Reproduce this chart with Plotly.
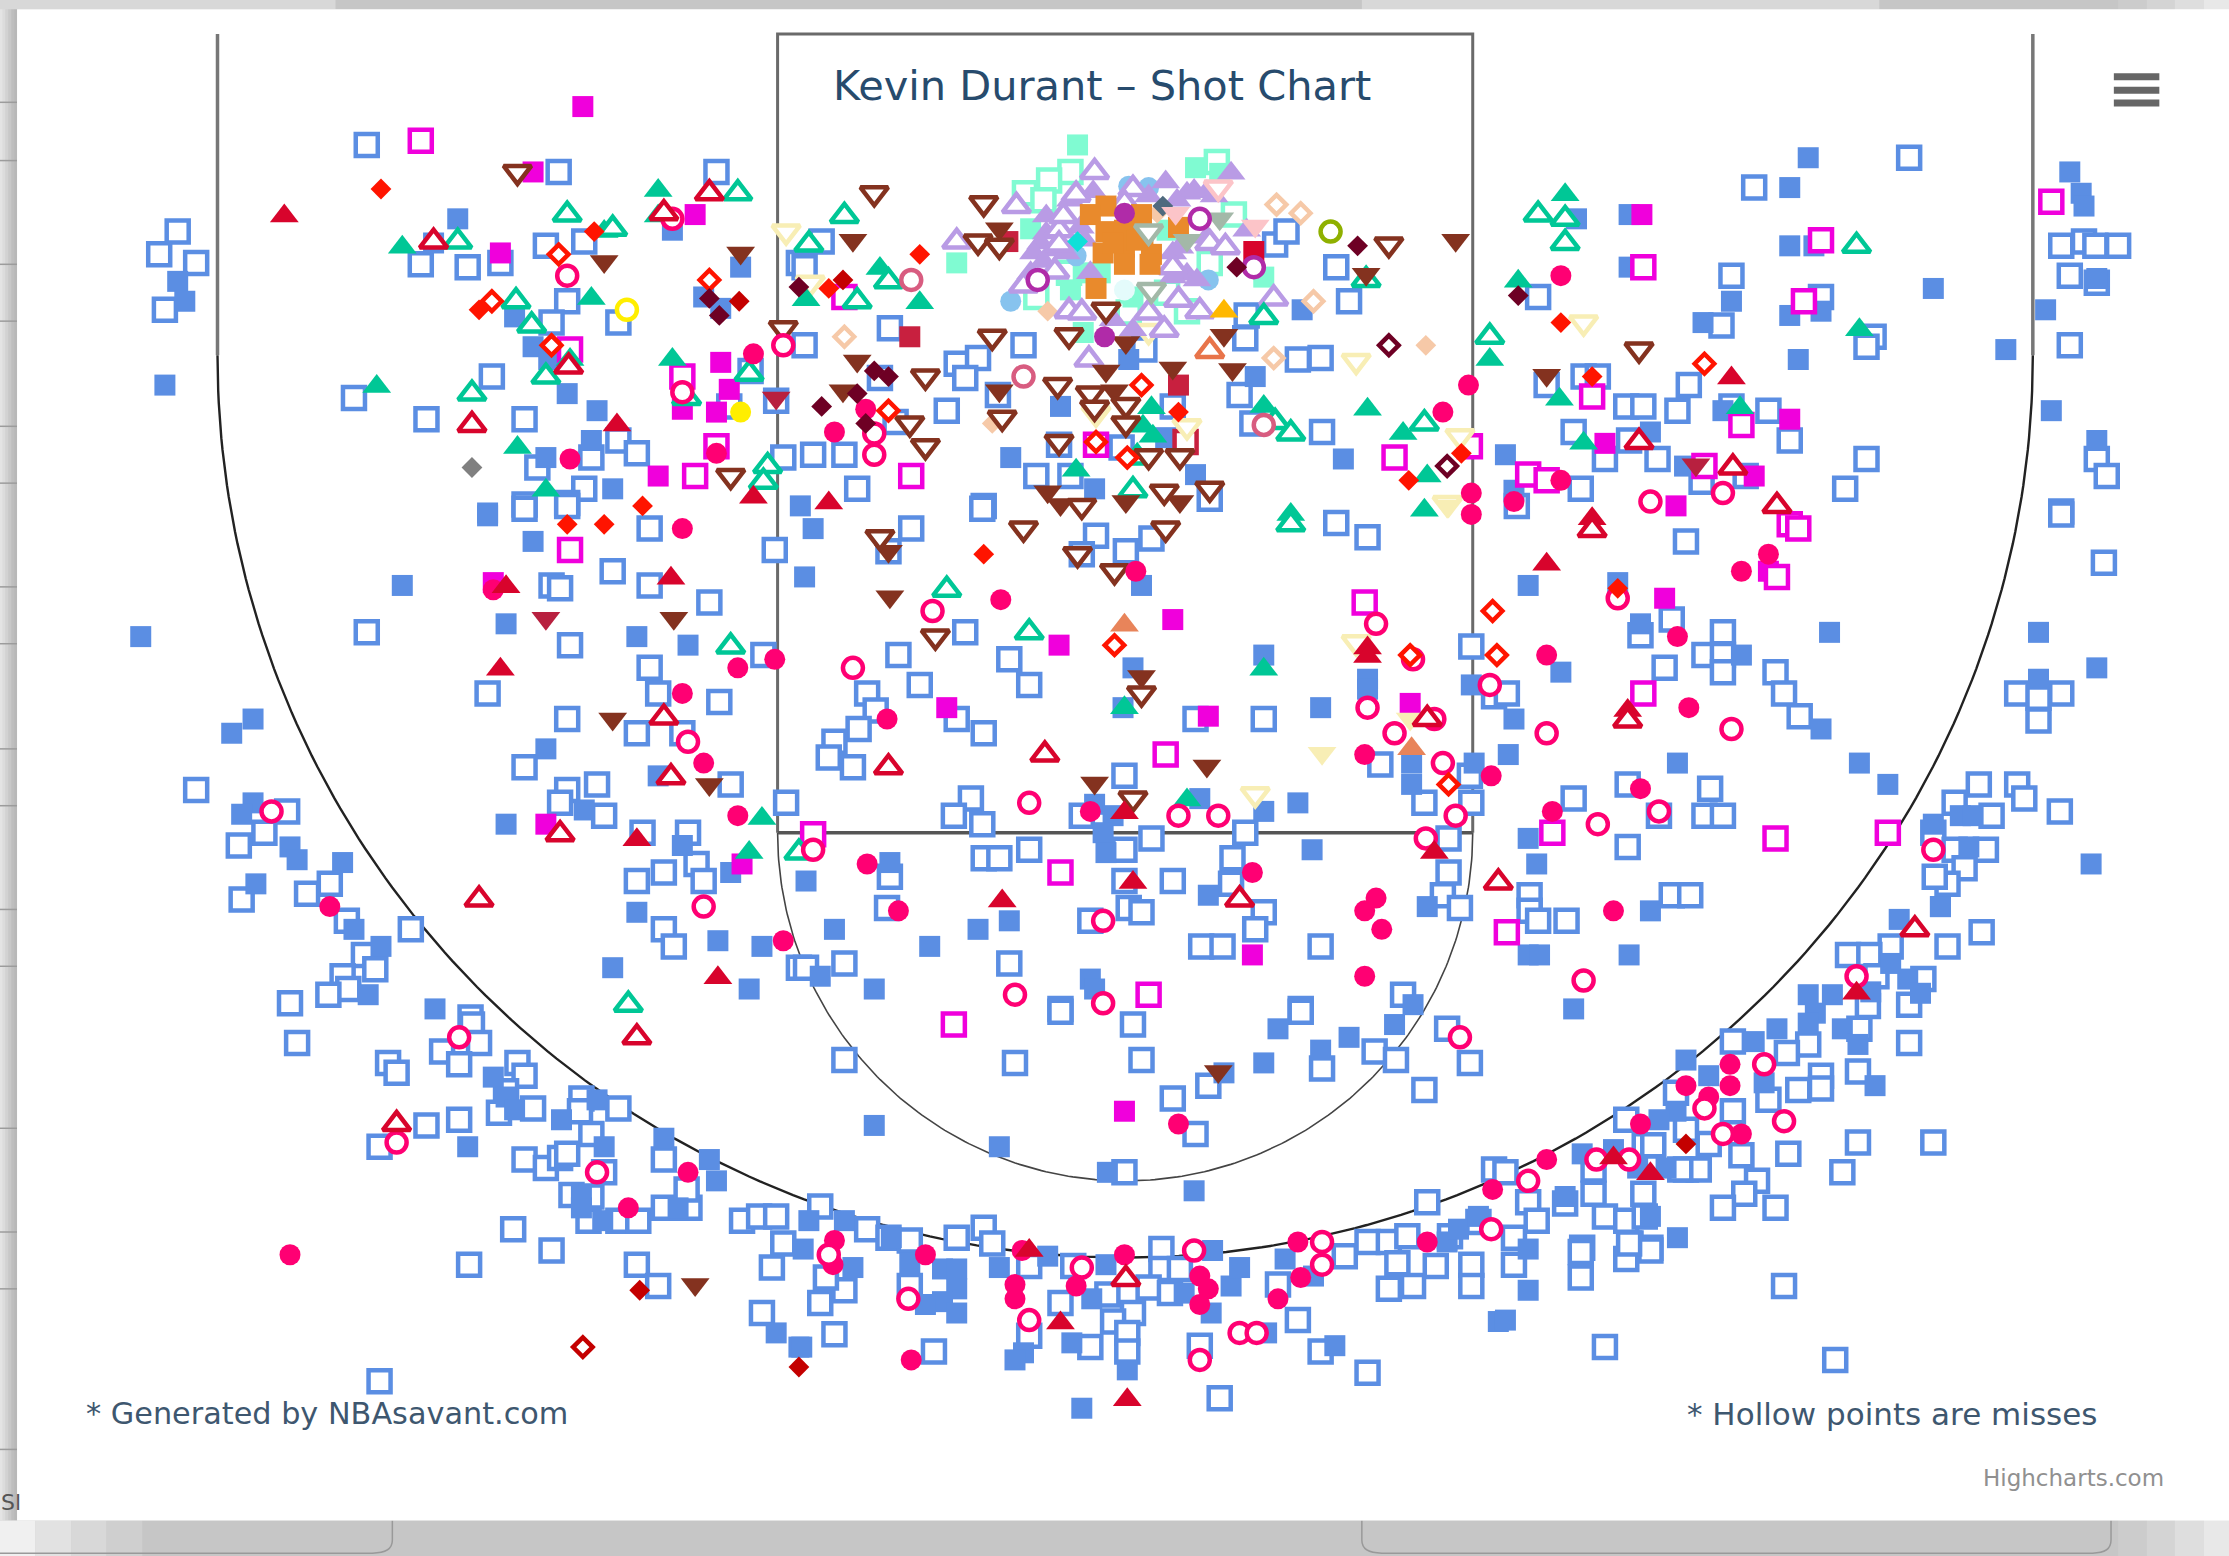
import numpy as np
import plotly.graph_objects as go

# Shot locations (horizontal, vertical court position)
jump_miss = [(125,163),(112,179),(138,185),(116,218),(258,102),(393,121),(504,121),(296,186),(329,188),(352,185),(384,173),(411,170),(399,212),(388,227),(435,227),(346,265),(249,280),(300,295),(369,295),(416,322),(435,310),(448,319),(378,329),(411,344),(369,355),(399,354),(551,322),(528,261),(513,286),(546,282),(562,185),
(578,170),(566,188),(626,231),(566,243),(720,243),(673,256),(688,252),(679,266),(619,266),(666,289),(572,320),(594,320),(603,344),(692,356),(702,278),(729,335),(753,335),(805,246),(872,278),(877,222),(876,238),(913,253),(929,252),(881,298),(930,304),(940,188),(949,212),(897,172),(905,163),(789,315),(630,297),(825,286),(851,351),(745,313),
(1343,111),(1234,132),(1218,194),(1082,209),(1211,229),(1281,209),(1318,237),(1313,244),(1450,173),(1466,170),(1490,173),(1474,173),(1456,194),(1475,199),(1456,243),(1088,271),(1114,265),(1124,265),(1188,271),(1144,286),(1156,286),(1180,289),(1218,286),(1244,289),(1107,304),(1146,310),(1129,323),(1166,323),(1197,339),(1228,335),(1259,310),(1313,323),(1298,344),(1112,344),(1475,323),(1482,335),(1450,360),(1067,356),
(369,358),(399,356),(457,372),(431,402),(388,412),(394,414),(457,412),(499,424),(258,445),(401,454),(545,387),(537,461),(457,470),(463,488),(506,494),(343,488),(399,506),(448,516),(480,516),(369,540),(399,556),(394,565),(420,552),(425,574),(514,552),(553,565),(138,556),(202,571),(186,586),(168,595),(452,586),(484,586),(490,608),(467,614),(448,620),(495,620),(232,622),(170,633),(216,629),(244,648),(289,654),(256,672),(264,682),(241,687),(245,696),(231,700),(204,706),(467,654),(474,666),(562,681),(331,716),
(641,372),(625,388),(691,358),(771,377),(810,379),(792,388),(761,390),(940,368),(962,378),(632,461),(679,445),(710,464),(647,482),(724,482),(610,488),(616,500),(604,513),(673,506),(692,516),(841,506),(889,506),(587,522),(583,533),(600,540),(791,546),(683,562),(671,574),(691,580),(761,574),(810,590),(876,586),(791,598),(724,598),(692,604),(703,604),(626,617),(791,620),(825,620),(867,604),(866,622),(794,639),(803,642),(767,648),(624,639),(889,642),(883,654),(845,666),(860,666),(929,666),(710,678),(594,678),(567,681),(746,710),(987,700),(915,710),(971,538),(1002,565),(1035,565),(1034,546),(1035,455),(1019,590),(1019,614),(1015,630),(1027,639),(1051,490),
(1450,362),(1480,396),(1186,381),(1176,436),(1154,447),(1212,445),(1199,461),(1212,461),(1212,473),(1171,470),(1249,473),(1255,488),(1266,504),(1060,488),(1419,488),(1450,488),(1434,491),(1434,507),(1107,562),(1145,552),(1203,555),(1199,574),(1212,574),(1167,574),(1145,596),(1392,552),(1419,552),(1424,562),(1375,565),(1401,574),(1449,571),(1360,586),(1375,598),(1397,598),(1382,611),(1370,622),(1361,617),(1076,630),(1176,630),(1189,630),(1076,641),(1082,648),(1102,648),
(209,734),(332,721),(337,734),(311,740),(323,749),(273,748),(279,755),(364,748),(369,757),(356,768),(351,783),(375,780),(409,773),(408,782),(435,780),(416,798),(300,792),(323,788),(267,807),(369,816),(384,822),(394,815),(399,812),(467,816),(425,825),(402,841),(416,842),(414,859),(435,859),(449,859),(467,850),(485,850),(483,837),(361,865),(388,880),(330,890),(448,890),(463,905),(522,859),(534,856),(546,856),(551,875),(543,892),(536,924),(267,972),
(594,746),(714,748),(746,712),(797,721),(803,746),(825,773),(850,764),(841,798),(930,752),(915,712),(967,740),(982,746),(1018,724),(1034,748),(1002,767),(791,825),(1004,846),(577,849),(610,865),(625,871),(640,873),(673,871),(692,864),(698,875),(724,891),(755,891),(817,879),(817,893),(830,893),(808,906),(823,910),(797,924),(783,930),(793,938),(793,951),(779,911),(746,917),(724,940),(767,948),(657,951),(587,939),(577,917),(594,908),(640,905),(581,899),(899,904),(913,929),(844,947),(929,951),(962,966),(858,984),(946,884),(962,874),(977,874),(990,870),(977,907),(994,905),(983,889),(1010,891),(1035,890),(1035,905),(1051,823),
(1343,734),(1370,666),(1394,656),(1330,666),(1300,672),(1315,672),(1320,687),(1314,708),(1343,707),(1308,724),(1272,735),(1257,741),(1219,733),(1353,689),(1281,757),(1281,766),(1265,767),(1307,754),(1244,774),(1219,782),(1179,769),(1186,795),(1157,806),(1144,788),(1163,806),(1202,805),(1225,813),(1258,812),(1236,831),(1227,840),(1212,850),(1249,850),(1307,804),(1360,804),(1296,825),(1186,823),(1195,823),(1182,823),(1121,823),(1121,840),(1156,840),(1129,856),(1144,859),(1157,856),(1113,878),(1147,875),(1161,878),(1075,846),(1081,859),(1065,871),(1101,847),(1059,825),
(1129,948),(1291,957),(1255,905),(1112,899),(1112,881),(1144,886),(1161,880),(1146,875),(1065,890),(1040,860),(1020,870)]
jump_make = [(322,154),(125,198),(130,212),(116,271),(362,223),(375,244),(386,253),(399,277),(420,289),(416,310),(384,322),(431,344),(343,361),(521,188),(495,209),(507,217),(473,162),(305,171),
(711,322),(746,286),(794,253),(883,265),(916,218),(945,323),(770,344),(841,334),(820,308),(563,356),
(1272,111),(1259,132),(1109,154),(1146,151),(1259,173),(1276,173),(1146,188),(1360,203),(1218,212),(1198,227),(1259,222),(1281,219),(1265,253),(1411,246),(1439,218),(1456,121),(1464,136),(1466,145),(1475,196),(1443,289),(1475,310),(1212,289),(1161,304),(1185,328),(1059,320),(1065,345),
(343,363),(375,381),(283,412),(99,448),(356,439),(448,448),(484,454),(178,506),(163,516),(178,565),(170,573),(384,527),(463,546),(356,580),(411,570),(204,596),(209,605),(241,607),(180,622),(249,654),(268,666),(259,700),(448,642),(505,662),(536,666),(431,681),(527,696),(480,595),(514,614),(306,710),
(572,372),(566,406),(803,412),(797,470),(889,461),(929,498),(962,478),(1035,482),(844,562),(889,571),(913,565),(770,566),(783,574),(776,586),(778,600),(626,607),(923,598),(567,620),(850,630),(587,654),(688,654),(710,648),(654,666),(577,687),(615,696),(767,689),(770,696),(1004,638),(993,537),(993,552),(1037,537),(790,498),(962,485),
(1075,412),(1138,410),(1154,439),(1225,461),(1287,445),(1434,445),(1475,470),(1434,478),(1098,473),(1065,506),(1281,513),(1061,531),(1180,537),(1308,537),(1328,552),(1360,580),(1379,574),(1388,574),(1385,596),(1075,590),(1081,608),(1161,641),(1471,608),(1075,672),(1083,672),(1146,672),(1107,710),(1365,638),
(347,758),(356,772),(362,781),(395,788),(420,774),(425,807),(467,801),(329,807),(499,816),(504,831),(409,842),(409,850),(424,859),(477,850),(546,938),(562,948),
(615,792),(703,807),(779,825),(840,838),(899,724),(949,730),(889,748),(929,739),(861,755),(981,721),(994,707),(569,859),(594,859),(600,892),(627,871),(640,889),(663,893),(673,893),(673,907),(663,916),(651,918),(673,924),(703,892),(737,884),(778,890),(768,914),(754,945),(720,952),(714,957),(793,964),(761,991),(833,910),(852,924),(866,905),(872,892),(853,880),(939,947),(891,938),(904,886),(924,898),(1018,874),(1026,865),(1040,856),(1054,930),(564,948),(565,879),
(1336,647),(1365,638),(1330,678),(1342,689),(1351,699),(1272,700),(1289,700),(1316,698),(1277,713),(1272,720),(1296,724),(1250,724),(1234,733),(1307,735),(1186,746),(1202,757),(1179,782),(1167,788),(1319,764),(1241,762),(1180,871),(1101,842),(1135,809),(1113,812),(1172,822),(1075,879),(1152,822),(1161,856),(1075,908),(1059,929)]
layup_make = [(410,75),(375,121),(489,151),(352,178),(507,255),(463,335),(513,274),(504,290),(480,288),(1155,151),(1259,295),(1179,356),(1234,335),(1129,312),(347,410),(384,580),(522,608),(825,436),(745,454),(666,498),(850,504),(992,495),(881,672),(1171,421),(1244,402),(791,782)]
layup_miss = [(296,99),(401,246),(480,265),(504,314),(489,335),(594,209),(641,335),(771,313),(981,322),(1034,314),(1281,169),(1156,188),(1269,212),(1443,142),(1120,279),(1225,299),(1075,334),(1088,338),(1199,328),(401,387),(960,424),(820,531),(746,614),(808,700),(671,721),(572,587),(1259,369),(1265,372),(1250,406),(1156,488),(1092,586),(1249,590),(1328,586),(1060,656)]
pull_make = [(401,323),(504,319),(530,249),(609,288),(587,304),(1033,271),(1015,290),(1035,347),(1098,194),(1098,338),(1065,353),(480,372),(347,415),(519,470),(545,464),(480,488),(495,537),(519,574),(232,638),(551,662),(704,422),(799,402),(624,506),(610,608),(632,641),(767,571),(881,614),(968,632),(960,641),(972,654),(960,687),(960,531),(1049,546),(1035,362),(1244,390),(1225,402),(1180,448),(1088,461),(1188,498),(1154,555),(1092,571),(1135,641),(484,825),(442,850),(204,883),(587,873),(586,890),(651,883),(719,880),(714,904),(714,914),(757,905),(791,883),(844,898),(850,907),(844,918),(899,914),(915,899),(913,874),(1004,874),(1050,837),(641,957),(829,791),(1217,749),(1217,764),(1186,764),(1202,772),(1225,798),(1154,791),(1088,816)]
pull_miss = [(399,194),(473,154),(551,243),(480,276),(615,305),(615,320),(1161,353),(1212,347),(191,571),(484,522),(495,638),(656,430),(600,470),(724,565),(829,574),(857,574),(968,439),(994,464),(962,498),(981,516),(1009,506),(1015,537),(1024,574),(1003,590),(1048,482),(776,648),(714,700),(776,706),(572,598),(1138,421),(1088,516),(1218,513),(1124,580),(1167,571),(1360,598),(1114,690),(1306,687),(323,730),(279,804),(420,825),(583,883),(639,914),(724,929),(761,892),(840,880),(930,874),(930,890),(872,938),(884,938),(844,957),(1049,865),(1027,730),(1241,749),(1199,780),(1212,798),(1255,789),(1123,816),(1146,816),(1075,831)]
pull_miss_soft = [(641,197),(720,265),(889,299)]
fade_make = [(200,152),(434,299),(530,350),(583,354),(1218,266),(1120,365),(356,413),(472,407),(352,471),(448,591),(505,688),(791,572),(962,456),(962,462),(1009,600),(797,621),(705,634),(1088,397),(1145,500),(1306,699),(724,880),(746,931),(793,985),(1135,815),(1161,826)]
fade_miss = [(305,170),(499,136),(332,299),(400,258),(467,150),(1153,311),(1219,329),(1250,356),(467,505),(472,547),(394,587),(337,633),(735,531),(625,540),(1004,506),(872,633),(1054,621),(1120,373),(1145,507),(1347,654),(448,730),(279,791),(792,900)]
float_make = [(463,134),(283,174),(416,210),(425,163),(265,272),(364,315),(401,253),(384,345),(463,152),(473,253),(619,189),(647,213),(567,211),(1048,253),(889,286),(962,288),(987,305),(810,287),(804,300),(811,307),(757,331),(1004,335),(908,362),(1002,359),(1101,137),(1068,198),(1097,281),(1224,287),(1308,232),(1114,312),(536,576),(527,600),(889,471),(791,498),(835,563)]
float_miss = [(519,136),(399,151),(322,170),(431,161),(363,212),(374,229),(384,265),(332,277),(483,280),(527,263),(540,328),(537,339),(594,152),(569,172),(625,198),(603,212),(889,223),(961,197),(1048,237),(897,297),(908,305),(1002,298),(797,345),(800,322),(1082,151),(1101,154),(1101,171),(1306,173),(514,455),(442,707),(562,600),(666,415),(908,369),(724,445)]
hook_miss = [(364,121),(551,231),(514,335),(615,136),(692,143),(688,170),(703,173),(977,172),(778,218),(698,237),(752,236),(651,265),(744,271),(767,277),(770,287),(792,285),(792,298),(640,298),(651,314),(705,294),(745,311),(808,321),(830,321),(819,346),(851,344),(761,356),(1153,246),(619,378),(720,372),(758,390),(784,402),(820,372),(658,448),(803,488),(797,562)]
hook_make = [(425,184),(521,178),(600,169),(703,161),(1024,169),(961,193),(861,236),(792,241),(603,254),(593,275),(703,275),(867,260),(778,261),(784,275),(825,259),(737,346),(746,355),(830,353),(792,353),(1088,264),(626,420),(625,388),(474,435),(431,506),(499,552),(803,476),(770,551),(849,539),(857,754),(489,904)]
hook_dark = [(546,280),(384,435),(1193,327)]
dunk_make = [(268,133),(418,163),(337,218),(452,356),(399,369),(425,369),(647,179),(583,203),(829,290),(1028,319),(991,338),(1098,227),(1120,265),(692,390),(1138,414)]
dunk_miss = [(393,179),(346,212),(388,243),(499,197),(625,289),(803,271),(771,311),(793,322),(1199,256),(784,454),(992,461),(1019,552),(1050,430),(1053,461)]
bank_make = [(520,212),(593,197),(450,908),(562,962),(1186,805)]
bank_miss = [(410,948)]
tip_make = [(499,210),(506,222),(562,202),(955,173),(615,261),(625,265),(603,277),(578,286),(609,298),(870,188),(1068,208)]
tip_miss = [(977,243),(1018,328)]
cream_miss = [(553,163),(954,254),(1027,307),(1018,354),(771,291),(835,300),(570,199),(1114,227),(954,452),(883,559),(808,233)]
cream_make = [(930,530),(992,506),(1019,356)]
peach_miss = [(898,144),(915,150),(924,212),(594,237),(896,252)]
peach_make = [(1003,243),(737,219),(698,298),(814,150)]
aqua_make = [(758,102),(841,118),(673,185),(725,161),(753,204),(762,192),(889,195),(774,192),(858,122),(797,209),(821,162),(762,234)]
aqua_miss = [(753,121),(738,127),(721,136),(868,151),(794,220),(835,219),(851,185),(729,209),(734,141),(752,192),(821,206),(856,114)]
rim_purple_make = [(866,122),(820,128),(835,136),(828,141),(849,135),(840,134),(769,135),(753,141),(736,152),(732,171),(746,162),(736,164),(727,178),(741,176),(750,178),(760,160),(763,169),(825,178),(830,174),(835,193),(842,197),(825,195),(877,162),(808,138),(783,225),(797,232),(767,192),(734,184),(725,192),(854,138),(849,167)]
rim_purple_miss = [(770,121),(715,145),(673,170),(797,133),(745,162),(851,171),(862,174),(825,188),(720,201),(742,191),(829,211),(844,219),(808,220),(752,219),(761,220),(819,232),(766,253),(896,210),(757,137),(748,152),(791,143),(745,172)]
rim_orange = [(778,145),(767,151),(803,151),(829,160),(778,163),(791,162),(804,167),(776,178),(791,174),(810,179),(791,186),(809,186),(771,203),(800,169),(783,171)]
sky_circle = [(711,212),(850,197),(757,180),(794,131),(808,132)]
pale_circle = [(791,204)]
violet_miss = [(730,197),(844,154),(882,188)]
violet_make = [(777,237),(791,150)]
olive_miss = [(936,163)]
sage_miss = [(808,163),(810,204)]
sage_make = [(858,154),(835,169)]
pink_miss = [(857,132)]
pink_make = [(883,159),(827,150)]
yellow_miss = [(441,218)]
yellow_make = [(521,290)]
grey_diamond = [(332,329)]
slate_diamond = [(818,145)]
teal_diamond = [(758,170)]
coral_miss = [(851,247)]
coral_make = [(791,440),(993,527)]
amber_make = [(861,219)]
ruby_make = [(640,237),(829,271),(709,170)]
ruby_miss = [(834,311)]
scarlet_square = [(882,177)]

BLUE, MAG, CRIM, RED, GREEN, BROWN = "#5b8ee3", "#f000dc", "#ff0073", "#d8042c", "#00c796", "#84321f"
SERIES = [
    (jump_miss, "square", BLUE, True), (jump_make, "square", BLUE, False),
    (aqua_miss, "square", "#80fbd2", True), (aqua_make, "square", "#80fbd2", False),
    (layup_make, "square", MAG, False), (layup_miss, "square", MAG, True),
    (scarlet_square, "square", "#d8042c", False), (ruby_make, "square", "#c8203f", False), (ruby_miss, "square", "#c8203f", True),
    (peach_miss, "diamond", "#f6c9a8", True), (peach_make, "diamond", "#f6c9a8", False),
    (cream_miss, "triangle-down", "#f8eeb5", True), (cream_make, "triangle-down", "#f8eeb5", False),
    (sky_circle, "circle", "#87c3ee", False), (pale_circle, "circle", "#e4fbfb", False),
    (rim_purple_make, "triangle-up", "#b99be5", False), (rim_purple_miss, "triangle-up", "#b99be5", True),
    (rim_orange, "square", "#e98a2c", False),
    (teal_diamond, "diamond", "#10e0d8", False), (slate_diamond, "diamond", "#4f6a7e", False),
    (sage_miss, "triangle-down", "#a3b8a8", True), (sage_make, "triangle-down", "#a3b8a8", False),
    (pink_miss, "triangle-down", "#fcc4c8", True), (pink_make, "triangle-down", "#fcc4c8", False),
    (olive_miss, "circle", "#8fb000", True), (amber_make, "triangle-up", "#ffb800", False),
    (coral_miss, "triangle-up", "#e8744a", True), (coral_make, "triangle-up", "#e8845a", False),
    (float_make, "triangle-up", GREEN, False), (float_miss, "triangle-up", GREEN, True),
    (hook_make, "triangle-down", BROWN, False), (hook_miss, "triangle-down", BROWN, True), (hook_dark, "triangle-down", "#b8203f", False),
    (violet_miss, "circle", "#b02ba8", True), (violet_make, "circle", "#b02ba8", False),
    (pull_miss_soft, "circle", "#d85c80", True),
    (pull_make, "circle", CRIM, False), (pull_miss, "circle", CRIM, True),
    (fade_make, "triangle-up", RED, False), (fade_miss, "triangle-up", RED, True),
    (dunk_make, "diamond", "#ff1400", False), (dunk_miss, "diamond", "#ff1400", True),
    (bank_make, "diamond", "#c40000", False), (bank_miss, "diamond", "#c40000", True),
    (tip_make, "diamond", "#6e0024", False), (tip_miss, "diamond", "#6e0024", True),
    (yellow_miss, "circle", "#ffee00", True), (yellow_make, "circle", "#ffee00", False),
    (grey_diamond, "diamond", "#808080", False),
]
FILLED_SIZE = {"square": 21, "circle": 21, "triangle-up": 25, "triangle-down": 25, "diamond": 16}
HOLLOW_SIZE = {"square": 22, "circle": 20, "triangle-up": 24, "triangle-down": 24, "diamond": 15}

fig = go.Figure()

# court lines
t = np.linspace(0, np.pi, 240)
three_x, three_y = 791.5 + 638.5 * np.cos(t), 250 + 635 * np.sin(t)
ft_x, ft_y = 791.5 + 244.5 * np.cos(t), 586 + 245 * np.sin(t)
for cx, cy, col, w in [
    (three_x, three_y, "#222222", 2.4), (ft_x, ft_y, "#444444", 1.6),
    ([153, 153], [24, 250], "#777777", 3.5), ([1430, 1430], [24, 250], "#777777", 3.5),
    ([547, 547, 1036, 1036], [586, 24, 24, 586], "#6a6a6a", 3), ([547, 1036], [586, 586], "#555555", 3.5),
]:
    fig.add_trace(go.Scatter(x=cx, y=cy, mode="lines", line=dict(color=col, width=w), hoverinfo="skip", showlegend=False))

for pts, sym, col, hollow in SERIES:
    xs, ys = zip(*pts)
    if hollow:
        marker = dict(symbol=sym, size=HOLLOW_SIZE[sym], color="white", line=dict(color=col, width=4.5))
    else:
        marker = dict(symbol=sym, size=FILLED_SIZE[sym], color=col, line=dict(width=0))
    fig.add_trace(go.Scatter(x=xs, y=ys, mode="markers", marker=marker, hoverinfo="skip", showlegend=False))

# window furniture around the white chart panel
shapes = []
def rect(x0, y0, x1, y1, col):
    shapes.append(dict(type="rect", xref="x", yref="y", x0=x0, y0=y0, x1=x1, y1=y1, fillcolor=col, line=dict(width=0), layer="below"))
rect(0, 0, 1568, 1095, "#c6c6c6")
for i, c in enumerate(["#e4e4e4", "#dcdcdc", "#d2d2d2", "#c8c8c8", "#bebebe", "#b8b8b8"]):
    rect(i * 2, 0, i * 2 + 2, 1070, c)
for i, c in enumerate(["#f0f0f0", "#e2e2e2", "#d8d8d8", "#cfcfcf"]):
    rect(i * 25, 1070, i * 25 + 25, 1095, c)
for i, c in enumerate(["#cccccc", "#d4d4d4", "#dedede", "#e8e8e8"]):
    rect(1490 + i * 20, 0, 1510 + i * 20, 1095, c)
rect(0, 0, 236, 6.5, "#d8d8d8")
rect(958, 0, 1322, 6.5, "#d8d8d8")
for yy in [72, 113, 186, 226, 300, 340, 413, 453, 527, 567, 640, 680, 794, 867, 907, 1020]:
    shapes.append(dict(type="line", xref="x", yref="y", x0=0, x1=12, y0=yy, y1=yy, line=dict(color="#9c9c9c", width=1.5), layer="below"))
for path in ["M 276 1070 L 276 1084 Q 276 1093 262 1093 L 0 1093",
             "M 958 1070 L 958 1084 Q 958 1093 972 1093 L 1472 1093 Q 1485 1093 1485 1084 L 1485 1070"]:
    shapes.append(dict(type="path", xref="x", yref="y", path=path, line=dict(color="#999999", width=1.5), layer="below"))
rect(12, 6.5, 1568, 1070, "#ffffff")
for yy in [54, 63.5, 72.5]:
    shapes.append(dict(type="line", xref="x", yref="y", x0=1487, x1=1519, y0=yy, y1=yy, line=dict(color="#666666", width=7), layer="above"))

TEXTS = [("Kevin Durant – Shot Chart", 775, 60, 41.5, "#274b6d", "center"),
         ("* Generated by NBAsavant.com", 60, 995, 30.3, "#3e576f", "left"),
         ("* Hollow points are misses", 1186, 995, 31, "#3e576f", "left"),
         ("Highcharts.com", 1523, 1040, 23, "#909090", "right"),
         ("Sl", 0, 1057, 22, "#555555", "left")]
anns = [dict(x=x, y=y, xref="x", yref="y", text=s, showarrow=False, xanchor=a, yanchor="middle", borderpad=0,
             font=dict(family="DejaVu Sans", size=z, color=c)) for s, x, y, z, c, a in TEXTS]

fig.update_layout(
    width=2229, height=1556, autosize=False, margin=dict(l=0, r=0, t=0, b=0),
    paper_bgcolor="#c6c6c6", plot_bgcolor="#c6c6c6", showlegend=False, shapes=shapes, annotations=anns,
    xaxis=dict(range=[0, 1568], visible=False, fixedrange=True),
    yaxis=dict(range=[1095, 0], visible=False, fixedrange=True),
)
fig.write_html("out.html", config={"displayModeBar": False}, post_script="document.body.style.margin='0';")
